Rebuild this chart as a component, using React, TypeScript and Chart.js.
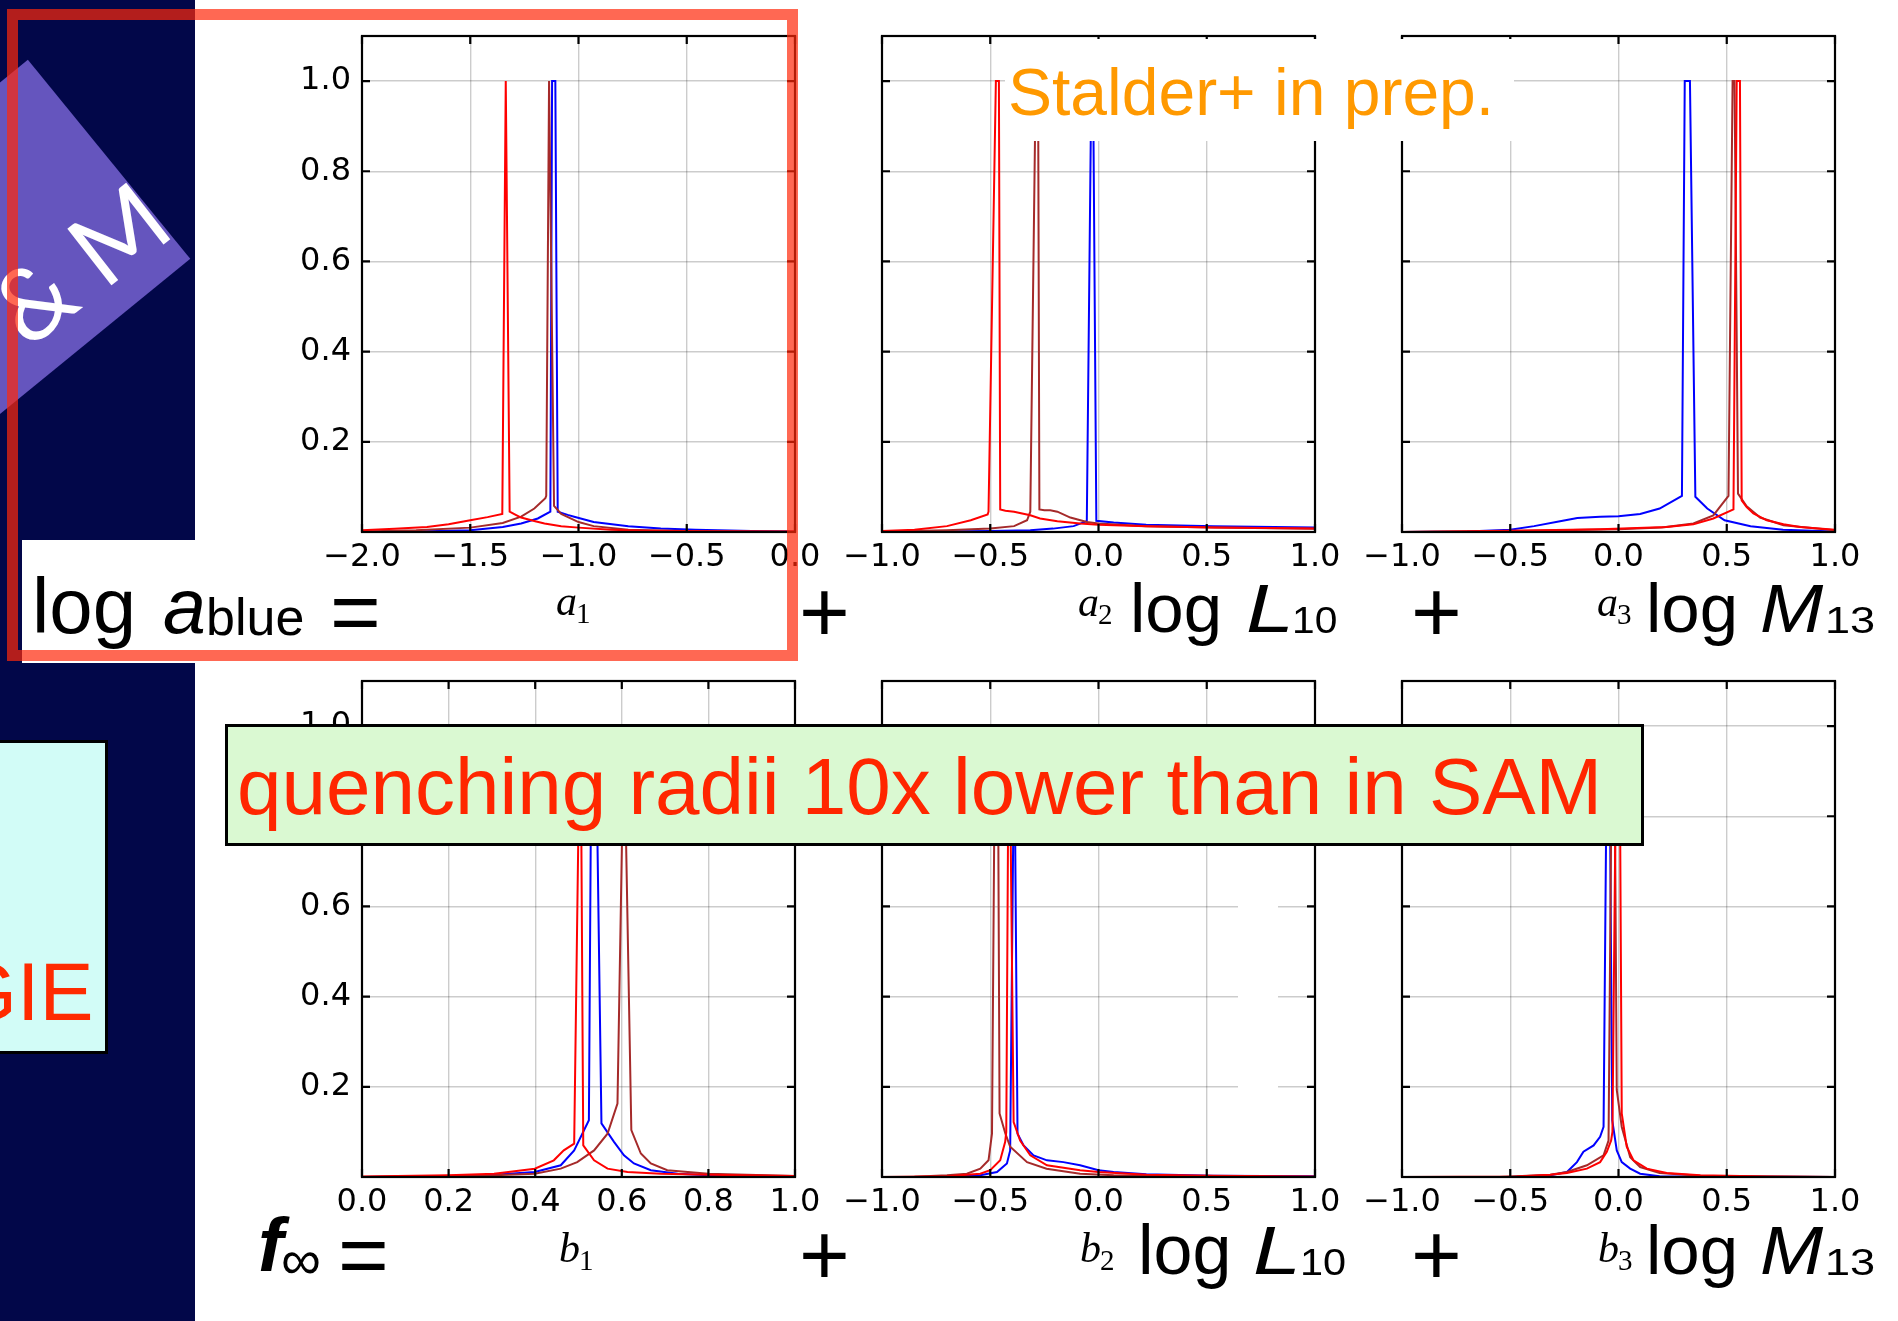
import React, { useEffect, useRef } from 'react';
import { Chart, registerables } from 'chart.js';

Chart.register(...registerables);

// ---------- tick labels ----------
const xTicksA = [-2, -1.5, -1, -0.5, 0];
const xTicksB = [-1, -0.5, 0, 0.5, 1];
const xTicksC = [0, 0.2, 0.4, 0.6, 0.8, 1];
const yTicks = [0.2, 0.4, 0.6, 0.8, 1.0];

// ---------- series: [x, normalized density] ----------
const a1Red = [[-2,0.004],[-1.85,0.007],[-1.7,0.011],[-1.6,0.017],[-1.5,0.026],[-1.42,0.033],[-1.352,0.04],[-1.336,1.0],[-1.318,0.045],[-1.29,0.038],[-1.265,0.032],[-1.2,0.024],[-1.157,0.019],[-1.08,0.013],[-1.0,0.0097],[-0.85,0.005],[-0.7,0.003],[-0.4,0.0015],[0,0.001]];
const a1Brown = [[-2,0.001],[-1.75,0.004],[-1.5,0.0097],[-1.35,0.02],[-1.265,0.034],[-1.204,0.052],[-1.153,0.075],[-1.149,0.08],[-1.136,1.0],[-1.113,0.058],[-1.08,0.04],[-1.0,0.022],[-0.93,0.013],[-0.77,0.005],[-0.46,0.0015],[0,0.0005]];
const a1Blue = [[-2,0],[-1.75,0.001],[-1.5,0.004],[-1.35,0.011],[-1.265,0.019],[-1.188,0.03],[-1.13,0.045],[-1.122,1.0],[-1.107,1.0],[-1.096,0.045],[-1.05,0.038],[-1.02,0.034],[-0.93,0.022],[-0.77,0.013],[-0.62,0.0075],[-0.46,0.005],[-0.2,0.002],[0,0.001]];

const a2Red = [[-1,0.002],[-0.85,0.005],[-0.7,0.013],[-0.59,0.026],[-0.512,0.039],[-0.508,0.045],[-0.474,1.0],[-0.46,1.0],[-0.454,0.05],[-0.43,0.047],[-0.39,0.045],[-0.315,0.037],[-0.27,0.03],[-0.19,0.024],[-0.085,0.019],[0,0.016],[0.22,0.013],[0.53,0.01],[1,0.0075]];
const a2Brown = [[-1,0.001],[-0.7,0.004],[-0.5,0.0075],[-0.39,0.013],[-0.33,0.026],[-0.315,0.045],[-0.29,1.0],[-0.279,1.0],[-0.273,0.05],[-0.25,0.048],[-0.223,0.048],[-0.19,0.045],[-0.13,0.032],[-0.054,0.022],[0,0.019],[0.22,0.013],[0.53,0.01],[1,0.007]];
const a2Blue = [[-1,0],[-0.5,0.002],[-0.315,0.004],[-0.21,0.0075],[-0.115,0.013],[-0.054,0.024],[-0.033,1.0],[-0.025,1.0],[-0.01,0.025],[0.07,0.021],[0.22,0.016],[0.53,0.013],[1,0.01]];

const a3Red = [[-1,0],[-0.5,0.003],[-0.085,0.006],[0.223,0.011],[0.346,0.017],[0.438,0.03],[0.531,0.05],[0.546,1.0],[0.561,1.0],[0.569,0.07],[0.592,0.055],[0.623,0.041],[0.685,0.026],[0.762,0.017],[0.838,0.011],[1,0.005]];
const a3Brown = [[-1,0],[-0.5,0.002],[0,0.006],[0.2,0.01],[0.346,0.019],[0.438,0.037],[0.508,0.08],[0.527,1.0],[0.536,1.0],[0.552,0.085],[0.592,0.057],[0.654,0.032],[0.762,0.015],[1,0.004]];
const a3Blue = [[-1,0],[-0.7,0.001],[-0.5,0.005],[-0.39,0.013],[-0.27,0.024],[-0.19,0.031],[-0.085,0.034],[0,0.035],[0.1,0.04],[0.19,0.052],[0.293,0.08],[0.306,1.0],[0.33,1.0],[0.355,0.078],[0.41,0.052],[0.49,0.026],[0.61,0.013],[0.76,0.005],[1,0.001]];

const b1Red = [[0,0.001],[0.2,0.004],[0.305,0.0074],[0.399,0.0185],[0.443,0.037],[0.466,0.059],[0.49,0.074],[0.503,1.0],[0.505,1.0],[0.511,0.07],[0.536,0.037],[0.567,0.0185],[0.613,0.011],[0.69,0.0074],[0.8,0.005],[1,0.002]];
const b1Brown = [[0,0],[0.305,0.004],[0.399,0.0074],[0.459,0.0185],[0.497,0.033],[0.536,0.059],[0.567,0.096],[0.59,0.163],[0.605,1.0],[0.622,0.104],[0.644,0.052],[0.667,0.03],[0.705,0.015],[0.8,0.0074],[1,0.002]];
const b1Blue = [[0,0],[0.2,0.0015],[0.305,0.005],[0.399,0.011],[0.459,0.026],[0.49,0.059],[0.524,0.126],[0.53,1.0],[0.54,1.0],[0.553,0.119],[0.582,0.078],[0.605,0.048],[0.628,0.03],[0.667,0.015],[0.729,0.0074],[0.8,0.0037],[1,0.0015]];

const b2Red = [[-1,0],[-0.7,0.0015],[-0.546,0.0074],[-0.5,0.015],[-0.454,0.037],[-0.431,0.078],[-0.426,0.1],[-0.415,1.0],[-0.411,1.0],[-0.392,0.122],[-0.362,0.081],[-0.315,0.048],[-0.238,0.026],[-0.085,0.015],[0,0.011],[0.223,0.005],[0.531,0.003],[1,0.001]];
const b2Brown = [[-1,0],[-0.85,0.0005],[-0.7,0.004],[-0.608,0.0074],[-0.546,0.0185],[-0.508,0.037],[-0.492,0.096],[-0.478,1.0],[-0.465,1.0],[-0.457,0.141],[-0.43,0.096],[-0.408,0.067],[-0.33,0.033],[-0.24,0.0185],[-0.085,0.0074],[0.07,0.004],[0.5,0.0005],[1,0]];
const b2Blue = [[-1,0],[-0.7,0],[-0.546,0.004],[-0.469,0.011],[-0.423,0.03],[-0.408,0.059],[-0.389,1.0],[-0.374,0.096],[-0.346,0.07],[-0.3,0.048],[-0.238,0.037],[-0.162,0.033],[-0.085,0.026],[0,0.015],[0.07,0.011],[0.22,0.006],[0.53,0.003],[1,0.0015]];

const b3Red = [[-1,0],[-0.47,0.001],[-0.315,0.005],[-0.238,0.009],[-0.146,0.0185],[-0.085,0.033],[-0.054,0.056],[-0.034,0.081],[-0.028,0.1],[-0.01,1.0],[0.005,1.0],[0.015,0.141],[0.038,0.067],[0.069,0.037],[0.131,0.0185],[0.223,0.009],[0.377,0.004],[0.685,0.001],[1,0]];
const b3Brown = [[-1,0],[-0.55,0],[-0.315,0.005],[-0.238,0.011],[-0.146,0.026],[-0.069,0.048],[-0.046,0.081],[-0.03,1.0],[-0.019,1.0],[-0.008,0.193],[0.015,0.111],[0.054,0.044],[0.1,0.022],[0.19,0.009],[0.38,0.003],[0.69,0.001],[1,0]];
const b3Blue = [[-1,0],[-0.5,0],[-0.315,0.004],[-0.238,0.011],[-0.192,0.033],[-0.162,0.056],[-0.115,0.07],[-0.085,0.089],[-0.069,0.111],[-0.053,1.0],[-0.042,1.0],[-0.029,0.126],[-0.008,0.059],[0.015,0.033],[0.054,0.0185],[0.1,0.0074],[0.19,0.0015],[1,0]];

// ---------- styling / layout ----------
const RED = '#ff0000';
const BROWN = '#a52a2a';
const BLUE = '#0000ff';
const SANS = '"Liberation Sans", Arial, Helvetica, sans-serif';
const SERIF = '"Liberation Serif", "Times New Roman", serif';
const TICK_FONT = { family: '"DejaVu Sans", sans-serif', size: 32 };

const COLS = [362, 882, 1402];
const ROWS = [36, 681];
const PW = 433;
const PH = 496;
const YW = 80;
const PT = 14;
const PR = 40;
const XH = 60;
const CW = YW + PW + PR;
const CH = PT + PH + XH;

type Pt = number[];
type PanelDef = { key: string; col: number; row: number; xmin: number; xmax: number; xt: number[]; showY: boolean; series: Pt[][] };

const panels: PanelDef[] = [
  { key: 'a1', col: 0, row: 0, xmin: -2, xmax: 0, xt: xTicksA, showY: true, series: [a1Red, a1Brown, a1Blue] },
  { key: 'a2', col: 1, row: 0, xmin: -1, xmax: 1, xt: xTicksB, showY: false, series: [a2Red, a2Brown, a2Blue] },
  { key: 'a3', col: 2, row: 0, xmin: -1, xmax: 1, xt: xTicksB, showY: false, series: [a3Red, a3Brown, a3Blue] },
  { key: 'b1', col: 0, row: 1, xmin: 0, xmax: 1, xt: xTicksC, showY: true, series: [b1Red, b1Brown, b1Blue] },
  { key: 'b2', col: 1, row: 1, xmin: -1, xmax: 1, xt: xTicksB, showY: false, series: [b2Red, b2Brown, b2Blue] },
  { key: 'b3', col: 2, row: 1, xmin: -1, xmax: 1, xt: xTicksB, showY: false, series: [b3Red, b3Brown, b3Blue] },
];

const fmt = (v: number) => {
  if (Math.abs(v) < 1e-9) return '0.0';
  const s = Math.abs(v).toFixed(1);
  return v < 0 ? '\u2212' + s : s;
};

const framePlugin = {
  id: 'frame',
  afterDatasetsDraw(chart: any) {
    const { ctx, chartArea: a, scales } = chart;
    ctx.save();
    ctx.strokeStyle = '#000';
    ctx.lineWidth = 2.2;
    ctx.strokeRect(a.left, a.top, a.right - a.left, a.bottom - a.top);
    const L = 8;
    ctx.beginPath();
    scales.y.ticks.forEach((t: any) => {
      const y = scales.y.getPixelForValue(t.value);
      ctx.moveTo(a.left, y); ctx.lineTo(a.left + L, y);
      ctx.moveTo(a.right, y); ctx.lineTo(a.right - L, y);
    });
    scales.x.ticks.forEach((t: any) => {
      const x = scales.x.getPixelForValue(t.value);
      ctx.moveTo(x, a.bottom); ctx.lineTo(x, a.bottom - L);
      ctx.moveTo(x, a.top); ctx.lineTo(x, a.top + L);
    });
    ctx.stroke();
    ctx.restore();
  },
};

function Panel({ p }: { p: PanelDef }) {
  const ref = useRef<HTMLCanvasElement>(null);
  useEffect(() => {
    const colors = [RED, BROWN, BLUE];
    const chart = new Chart(ref.current as HTMLCanvasElement, {
      type: 'scatter',
      data: {
        datasets: p.series.map((s, i) => ({
          data: s.map((q) => ({ x: q[0], y: q[1] })),
          showLine: true,
          borderColor: colors[i],
          backgroundColor: colors[i],
          borderWidth: 2,
          pointRadius: 0,
          tension: 0,
          fill: false,
        })),
      },
      options: {
        animation: false,
        responsive: false,
        devicePixelRatio: 1,
        layout: { padding: { top: PT, right: PR, left: 0, bottom: 0 }, autoPadding: false },
        plugins: { legend: { display: false }, tooltip: { enabled: false } },
        scales: {
          x: {
            type: 'linear',
            min: p.xmin,
            max: p.xmax,
            afterBuildTicks: (s: any) => { s.ticks = p.xt.map((v) => ({ value: v })); },
            afterFit: (s: any) => { s.height = XH; s.paddingLeft = 0; s.paddingRight = 0; s.paddingTop = 0; s.paddingBottom = 0; },
            ticks: {
              callback: (v: any) => fmt(Number(v)),
              font: TICK_FONT,
              color: '#000',
              padding: 6,
              autoSkip: false,
              maxRotation: 0,
              minRotation: 0,
            },
            grid: { color: 'rgba(0,0,0,0.2)', lineWidth: 1.4, drawTicks: false },
            border: { display: false },
          },
          y: {
            type: 'linear',
            min: 0,
            max: 1.1,
            afterBuildTicks: (s: any) => { s.ticks = yTicks.map((v) => ({ value: v })); },
            afterFit: (s: any) => { s.width = YW; s.paddingTop = 0; s.paddingBottom = 0; s.paddingLeft = 0; s.paddingRight = 0; },
            ticks: {
              display: p.showY,
              callback: (v: any) => fmt(Number(v)),
              font: TICK_FONT,
              color: '#000',
              padding: 11,
              autoSkip: false,
            },
            grid: { color: 'rgba(0,0,0,0.2)', lineWidth: 1.4, drawTicks: false },
            border: { display: false },
          },
        },
      } as any,
      plugins: [framePlugin],
    });
    return () => chart.destroy();
  }, []);
  return (
    <canvas
      ref={ref}
      width={CW}
      height={CH}
      style={{ position: 'absolute', left: COLS[p.col] - YW, top: ROWS[p.row] - PT, width: CW, height: CH }}
    />
  );
}

type TP = { x: number; y: number; s: number; f?: string; it?: boolean; c?: string; w?: number; sx?: number; children: React.ReactNode };
const T = ({ x, y, s, f = SANS, it = false, c = '#000', w = 400, sx = 1, children }: TP) => (
  <div
    style={{
      position: 'absolute', left: x, top: y - 0.845 * s, fontSize: s, lineHeight: 1,
      fontFamily: f, fontStyle: it ? 'italic' : 'normal', fontWeight: w, color: c, whiteSpace: 'nowrap',
      transformOrigin: '0 0', transform: sx !== 1 ? `scaleX(${sx})` : undefined,
    }}
  >
    {children}
  </div>
);

function Coef({ x, y, l, n }: { x: number; y: number; l: string; n: string }) {
  return (
    <>
      <T x={x} y={y} s={42} f={SERIF} it>{l}</T>
      <T x={x + 20} y={y + 9} s={29} f={SERIF}>{n}</T>
    </>
  );
}

export default function App() {
  return (
    <div style={{ position: 'fixed', left: 0, top: 0, width: 1898, height: 1321, overflow: 'hidden', background: '#fff' }}>
      {/* navy strip */}
      <div style={{ position: 'absolute', left: 0, top: 0, width: 195, height: 1321, background: '#020749' }} />
      {/* diamond */}
      <div style={{ position: 'absolute', left: 9 - 128.5, top: 240 - 128.5, width: 257, height: 257, background: '#6555BE', transform: 'rotate(50.8deg)' }} />
      <div style={{
        position: 'absolute', left: 26, top: 348 - 86, fontSize: 100, lineHeight: 1, fontFamily: 'Lato, "Open Sans", sans-serif',
        fontWeight: 400, color: '#fff', whiteSpace: 'nowrap', transformOrigin: '0px 86px', transform: 'rotate(-38deg)',
      }}>&amp; M</div>
      {/* cyan box */}
      <div style={{ position: 'absolute', left: -10, top: 740, width: 118, height: 314, boxSizing: 'border-box', border: '3px solid #000', background: '#D2FCF7' }} />
      <T x={-46} y={1020} s={81} c="#FF2A00">GIE</T>
      {/* white label box */}
      <div style={{ position: 'absolute', left: 22, top: 540, width: 180, height: 123, background: '#fff' }} />

      {panels.map((p) => <Panel key={p.key} p={p} />)}

      {/* row 1 equation */}
      <T x={32} y={633} s={78}>log</T>
      <T x={163} y={633} s={77} it>a</T>
      <T x={206} y={635} s={52}>blue</T>
      <T x={330} y={642} s={87}>=</T>
      <Coef x={556} y={615} l="a" n="1" />
      <T x={799} y={642} s={87}>+</T>
      <Coef x={1078} y={616} l="a" n="2" />
      <T x={1130} y={632} s={69}>log</T>
      <T x={1246} y={632} s={69} it sx={1.25}>L</T>
      <T x={1292} y={633} s={37} sx={1.1}>10</T>
      <T x={1411} y={642} s={87}>+</T>
      <Coef x={1597} y={616} l="a" n="3" />
      <T x={1646} y={632} s={69}>log</T>
      <T x={1760} y={632} s={69} it sx={1.1}>M</T>
      <T x={1825} y={633} s={37} sx={1.22}>13</T>

      {/* row 2 equation */}
      <T x={258} y={1271} s={76} it w={700}>f</T>
      <T x={281} y={1279} s={56}>∞</T>
      <T x={338} y={1285} s={87}>=</T>
      <Coef x={559} y={1262} l="b" n="1" />
      <T x={799} y={1285} s={87}>+</T>
      <Coef x={1080} y={1262} l="b" n="2" />
      <T x={1138} y={1274} s={70}>log</T>
      <T x={1253} y={1274} s={69} it sx={1.25}>L</T>
      <T x={1300} y={1275} s={37} sx={1.12}>10</T>
      <T x={1411} y={1285} s={87}>+</T>
      <Coef x={1598} y={1262} l="b" n="3" />
      <T x={1646} y={1274} s={69}>log</T>
      <T x={1760} y={1274} s={69} it sx={1.1}>M</T>
      <T x={1825} y={1275} s={37} sx={1.22}>13</T>

      {/* Stalder box */}
      <div style={{ position: 'absolute', left: 1005, top: 39, width: 509, height: 102, background: '#fff' }} />
      <T x={1008} y={115} s={66} c="#FF9900">Stalder+ in prep.</T>
      {/* small white patch in lower middle panel */}
      <div style={{ position: 'absolute', left: 1238, top: 880, width: 40, height: 220, background: '#fff' }} />
      {/* green box */}
      <div style={{ position: 'absolute', left: 225, top: 724, width: 1419, height: 122, boxSizing: 'border-box', border: '3px solid #000', background: '#DAF9D2' }} />
      <T x={237} y={815} s={80} c="#FF2600">quenching radii 10x lower than in SAM</T>
      {/* red frame */}
      <div style={{ position: 'absolute', left: 7, top: 9, width: 791, height: 652, boxSizing: 'border-box', border: '11px solid rgba(255,40,10,0.7)' }} />
    </div>
  );
}
